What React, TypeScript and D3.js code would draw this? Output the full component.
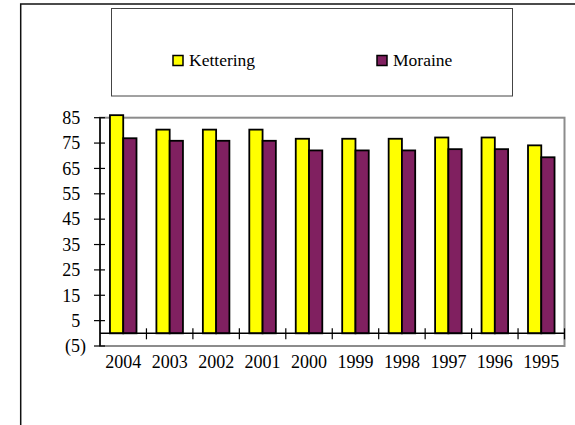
import React, { useRef, useEffect } from "react";
import * as d3 from "d3";

// chart data
const years = ["2004", "2003", "2002", "2001", "2000", "1999", "1998", "1997", "1996", "1995"];
const kettering = [86, 80.3, 80.3, 80.3, 76.7, 76.7, 76.7, 77.2, 77.2, 74.1];
const moraine = [76.9, 75.9, 75.9, 75.9, 72.1, 72.1, 72.1, 72.6, 72.6, 69.4];
const seriesNames = ["Kettering", "Moraine"];
const seriesColors = ["#FFFF00", "#802060"];
const yTicks = [-5, 5, 15, 25, 35, 45, 55, 65, 75, 85];

const App = () => {
  const svgRef = useRef(null);

  useEffect(() => {
    const width = 575;
    const height = 425;
    const font = "Liberation Serif, Times New Roman, DejaVu Serif, serif";

    // plot area in page pixels
    const plot = { left: 100, right: 564.5, top: 117.7, bottom: 346 };

    const svg = d3.select(svgRef.current).attr("width", width).attr("height", height);
    svg.selectAll("*").remove();

    // outer frame: only left and top edges are inside the picture
    svg
      .append("path")
      .attr("d", `M20.7,${height} V4 H${width}`)
      .attr("fill", "none")
      .attr("stroke", "#111")
      .attr("stroke-width", 1.5);

    // legend box
    svg
      .append("rect")
      .attr("x", 111.5)
      .attr("y", 8.5)
      .attr("width", 401)
      .attr("height", 87.5)
      .attr("fill", "white")
      .attr("stroke", "#444")
      .attr("stroke-width", 1);

    const legendX = [173, 377];
    seriesNames.forEach((name, i) => {
      svg
        .append("rect")
        .attr("x", legendX[i])
        .attr("y", 55.5)
        .attr("width", 10)
        .attr("height", 10)
        .attr("fill", seriesColors[i])
        .attr("stroke", "#000")
        .attr("stroke-width", 1.5);
      svg
        .append("text")
        .attr("x", legendX[i] + 16)
        .attr("y", 66)
        .style("font-family", font)
        .style("font-size", "17.5px")
        .attr("fill", "#000")
        .text(name);
    });

    // Scales
    const yScale = d3.scaleLinear().domain([-5, 85]).range([plot.bottom, plot.top]);
    const xScale = d3.scaleBand().domain(years).range([plot.left, plot.right]).padding(0);
    const xInner = d3
      .scaleBand()
      .domain(seriesNames)
      .range([0, xScale.bandwidth()])
      .paddingInner(0)
      .paddingOuter(0.75);

    // plot area border (gray)
    svg
      .append("rect")
      .attr("x", plot.left)
      .attr("y", plot.top)
      .attr("width", plot.right - plot.left)
      .attr("height", plot.bottom - plot.top)
      .attr("fill", "none")
      .attr("stroke", "#8c8c8c")
      .attr("stroke-width", 2);

    // Bars
    const values = [kettering, moraine];
    seriesNames.forEach((name, s) => {
      svg
        .append("g")
        .selectAll("rect")
        .data(years)
        .join("rect")
        .attr("x", (d) => xScale(d) + xInner(name))
        .attr("y", (d, i) => yScale(values[s][i]))
        .attr("width", xInner.bandwidth())
        .attr("height", (d, i) => yScale(0) - yScale(values[s][i]))
        .attr("fill", seriesColors[s])
        .attr("stroke", "#000")
        .attr("stroke-width", 1.8);
    });

    // y axis
    svg
      .append("line")
      .attr("x1", plot.left)
      .attr("x2", plot.left)
      .attr("y1", plot.top)
      .attr("y2", plot.bottom)
      .attr("stroke", "#000")
      .attr("stroke-width", 1.5);

    const yAxisG = svg.append("g");
    yTicks.forEach((t) => {
      yAxisG
        .append("line")
        .attr("x1", plot.left - 6)
        .attr("x2", plot.left + 5)
        .attr("y1", yScale(t))
        .attr("y2", yScale(t))
        .attr("stroke", "#000")
        .attr("stroke-width", 1.2);
      yAxisG
        .append("text")
        .attr("x", t < 0 ? 86 : 80.2)
        .attr("y", yScale(t) + 6.3)
        .attr("text-anchor", "end")
        .style("font-family", font)
        .style("font-size", "18px")
        .attr("fill", "#000")
        .text(t < 0 ? `(${-t})` : `${t}`);
    });

    // x axis at zero
    svg
      .append("line")
      .attr("x1", plot.left)
      .attr("x2", plot.right)
      .attr("y1", yScale(0))
      .attr("y2", yScale(0))
      .attr("stroke", "#000")
      .attr("stroke-width", 1.5);

    const xAxisG = svg.append("g");
    years.forEach((yr) => {
      const edge = xScale(yr) + xScale.bandwidth();
      xAxisG
        .append("line")
        .attr("x1", edge)
        .attr("x2", edge)
        .attr("y1", yScale(0) - 5)
        .attr("y2", yScale(0) + 6)
        .attr("stroke", "#000")
        .attr("stroke-width", 1.2);
      xAxisG
        .append("text")
        .attr("x", xScale(yr) + xScale.bandwidth() / 2)
        .attr("y", 368)
        .attr("text-anchor", "middle")
        .style("font-family", font)
        .style("font-size", "18px")
        .attr("fill", "#000")
        .text(yr);
    });
  }, []);

  return (
    <div style={{ position: "fixed", left: 0, top: 0, width: 575, height: 425, background: "white" }}>
      <svg ref={svgRef} style={{ display: "block" }} />
    </div>
  );
};

export default App;
